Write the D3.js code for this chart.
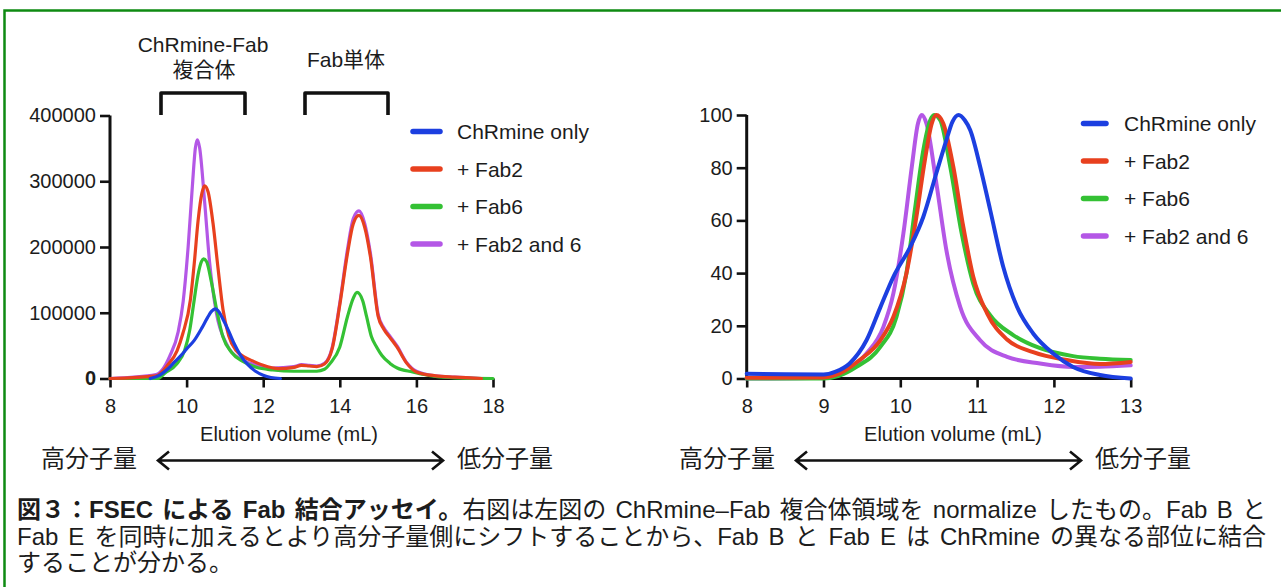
<!DOCTYPE html>
<html><head><meta charset="utf-8">
<script src="https://cdn.jsdelivr.net/npm/d3@7"></script>
<style>
html,body{margin:0;padding:0;background:#fff;}
svg{display:block;}
text{font-family:"Liberation Sans",Arial,"Noto Sans CJK JP",sans-serif;fill:#1c1c1c;}
</style></head><body>
<script>
// ---------------- DATA ----------------
const seriesNames = ["ChRmine only", "+ Fab2", "+ Fab6", "+ Fab2 and 6"];
const seriesColors = ["#1c3fe0", "#e8401e", "#34c134", "#b457e6"];

const leftXTicks = [8, 10, 12, 14, 16, 18];
const leftYTicks = [0, 100000, 200000, 300000, 400000];
const rightXTicks = [8, 9, 10, 11, 12, 13];
const rightYTicks = [0, 20, 40, 60, 80, 100];

// Left chart: raw FSEC signal vs elution volume (mL)
const leftBlueX = [9.05, 9.3, 9.5, 9.7, 9.9, 10.0, 10.2, 10.4, 10.55, 10.65, 10.75, 10.85, 10.95, 11.1, 11.25, 11.4, 11.6, 11.8, 12.0, 12.2, 12.45];
const leftBlueY = [0, 5000, 14000, 26000, 38000, 45000, 58000, 77000, 93000, 102000, 106000, 101000, 90000, 72000, 52000, 36000, 21000, 11000, 5000, 1500, 0];

const leftRedX = [8, 9.2, 9.5, 9.75, 9.9, 10.1, 10.2, 10.3, 10.4, 10.47, 10.56, 10.69, 10.82, 10.95, 11.1, 11.3, 11.5, 11.75, 12.0, 12.4, 12.8, 13.0, 13.2, 13.4, 13.6, 13.8, 14.0, 14.2, 14.35, 14.5, 14.65, 14.8, 15.0, 15.15, 15.3, 15.49, 15.75, 16.0, 16.5, 17.0, 17.7];
const leftRedY = [0, 4000, 20000, 42000, 68000, 120000, 175000, 240000, 282000, 293000, 284000, 236000, 168000, 105000, 65000, 42000, 33000, 26000, 20000, 15000, 17000, 20000, 19000, 18000, 22000, 45000, 112000, 190000, 235000, 248000, 230000, 185000, 95000, 75000, 63000, 48000, 23000, 10000, 4000, 2000, 0];

const leftGreenX = [8, 9.25, 9.43, 9.74, 9.95, 10.08, 10.19, 10.3, 10.39, 10.44, 10.52, 10.65, 10.8, 10.95, 11.17, 11.47, 11.82, 12.25, 12.8, 13.0, 13.4, 13.6, 13.75, 14.0, 14.2, 14.35, 14.45, 14.6, 14.7, 14.83, 14.96, 15.1, 15.31, 15.5, 15.9, 16.2, 16.5, 17.0, 18.0];
const leftGreenY = [0, 0, 8000, 22000, 43000, 73000, 116000, 158000, 178000, 182000, 178000, 146000, 100000, 63000, 40000, 26000, 17000, 13000, 11000, 11000, 11000, 14000, 23000, 48000, 94000, 122000, 131000, 118000, 94000, 63000, 48000, 35000, 23000, 16000, 10000, 6000, 3000, 1000, 0];

const leftPurpleX = [8, 9.2, 9.56, 9.78, 9.91, 10.04, 10.15, 10.23, 10.28, 10.34, 10.47, 10.6, 10.78, 11.04, 11.39, 11.82, 12.25, 12.8, 13.0, 13.2, 13.4, 13.6, 13.8, 14.0, 14.2, 14.35, 14.5, 14.65, 14.8, 15.0, 15.15, 15.3, 15.49, 15.75, 16.0, 16.5, 17.0, 17.7];
const leftPurpleY = [0, 6000, 34000, 71000, 117000, 200000, 292000, 351000, 363000, 351000, 269000, 177000, 99000, 53000, 30000, 21000, 16000, 18000, 21000, 20000, 19000, 23000, 47000, 115000, 196000, 243000, 255000, 236000, 190000, 98000, 77000, 65000, 50000, 24000, 11000, 4000, 2000, 0];

// Right chart: normalized (%) vs elution volume (mL)
const rightBlueX = [8, 8.5, 9.0, 9.15, 9.34, 9.56, 9.74, 9.91, 10.13, 10.3, 10.47, 10.6, 10.68, 10.76, 10.84, 10.91, 11.04, 11.17, 11.34, 11.52, 11.73, 11.99, 12.25, 12.6, 13.0];
const rightBlueY = [1.8, 1.6, 1.5, 2.5, 5.7, 14.5, 27, 38.6, 50, 61.4, 78, 90.5, 97.5, 100, 98, 94.3, 80.4, 64, 42.4, 27.2, 17.1, 9.5, 4.4, 1.3, 0];

const rightRedX = [8, 9.0, 9.21, 9.47, 9.74, 9.91, 10.08, 10.21, 10.32, 10.41, 10.47, 10.56, 10.69, 10.82, 10.95, 11.13, 11.39, 11.73, 12.17, 12.6, 13.0];
const rightRedY = [0.3, 0.4, 1.9, 7, 14.5, 23.4, 39.9, 61.4, 82.9, 96.8, 100, 96.8, 80.4, 57.6, 38.6, 24.7, 14.8, 10, 7, 5.5, 6.3];

const rightGreenX = [8, 9.0, 9.2, 9.43, 9.74, 9.95, 10.08, 10.19, 10.3, 10.39, 10.44, 10.52, 10.65, 10.8, 10.95, 11.17, 11.47, 11.82, 12.25, 12.6, 13.0];
const rightGreenY = [0, 0, 1, 4.4, 12, 23.4, 40, 64, 86.7, 98, 100, 98, 80.4, 55, 36, 24, 16.5, 11.5, 8.5, 7.5, 7];

const rightPurpleX = [8, 9.0, 9.2, 9.56, 9.78, 9.91, 10.04, 10.15, 10.23, 10.28, 10.34, 10.47, 10.6, 10.78, 11.04, 11.39, 11.82, 12.25, 12.6, 13.0];
const rightPurpleY = [0, 0.3, 2, 9.5, 19.6, 32.3, 55, 80.4, 96.8, 100, 96.8, 74, 48.7, 27.2, 14.5, 8.2, 5.7, 4.4, 4.5, 5];

const bracketLabels = [["ChRmine-Fab", "複合体"], ["Fab単体"]];
const arrowLabels = ["高分子量", "低分子量"];
const axisTitle = "Elution volume (mL)";
const captionLines = [
  [{t: "図３：FSEC による Fab 結合アッセイ。", b: true}, {t: "右図は左図の ChRmine–Fab 複合体領域を normalize したもの。Fab B と", b: false}],
  [{t: "Fab E を同時に加えるとより高分子量側にシフトすることから、Fab B と Fab E は ChRmine の異なる部位に結合", b: false}],
  [{t: "することが分かる。", b: false}]
];

// ---------------- DRAW ----------------
const W = 1281, H = 587;
const svg = d3.select("body").append("svg").attr("width", W).attr("height", H);
svg.append("rect").attr("width", W).attr("height", H).attr("fill", "#fff");

// green frame (top and left)
svg.append("path").attr("d", "M4.5,587 V10.5 H1281").attr("fill", "none")
  .attr("stroke", "#0e8a12").attr("stroke-width", 2.5);

function drawChart(cfg) {
  const g = svg.append("g");
  const x = d3.scaleLinear().domain(cfg.xDomain).range(cfg.xRange);
  const y = d3.scaleLinear().domain(cfg.yDomain).range(cfg.yRange);

  const ax = g.append("g").attr("transform", `translate(0,${cfg.yRange[0]})`)
    .call(d3.axisBottom(x).tickValues(cfg.xTicks).tickSize(9).tickPadding(11).tickFormat(d3.format("d")));
  const ay = g.append("g").attr("transform", `translate(${cfg.xRange[0]},0)`)
    .call(d3.axisLeft(y).tickValues(cfg.yTicks).tickSize(10).tickPadding(4).tickFormat(d3.format("d")));
  [ax, ay].forEach(a => {
    a.select(".domain").attr("stroke", "#111").attr("stroke-width", 3).attr("d",
      a === ax ? `M${cfg.xRange[0]},0H${cfg.xRange[1]}` : `M0,${cfg.yRange[0]}V${cfg.yRange[1]}`);
    a.selectAll(".tick line").attr("stroke", "#111").attr("stroke-width", 2.6);
    a.selectAll(".tick text").attr("fill", "#1c1c1c").style("font-size", "20px")
      .style("font-family", '"Liberation Sans", Arial, sans-serif');
  });
  if (cfg.boldZero) ay.selectAll(".tick text").filter(d => d === 0).style("font-weight", "bold");

  const line = d3.line().x(d => x(d[0])).y(d => y(d[1])).curve(d3.curveMonotoneX);
  // draw order: purple, green, red, blue
  [3, 2, 1, 0].forEach(i => {
    const xs = cfg.data[i][0], ys = cfg.data[i][1];
    g.append("path").datum(xs.map((v, k) => [v, ys[k]]))
      .attr("d", line).attr("fill", "none").attr("stroke", seriesColors[i])
      .attr("stroke-width", cfg.lw).attr("stroke-linejoin", "round").attr("stroke-linecap", "round");
  });

  // legend
  seriesNames.forEach((n, i) => {
    const yy = cfg.legY + i * cfg.legDy;
    g.append("line").attr("x1", cfg.legX1).attr("x2", cfg.legX2).attr("y1", yy).attr("y2", yy)
      .attr("stroke", seriesColors[i]).attr("stroke-width", 5.5).attr("stroke-linecap", "round");
    g.append("text").attr("x", cfg.legTx).attr("y", yy).attr("dy", "0.36em")
      .style("font-size", "21px").text(n);
  });

  // axis title
  g.append("text").attr("x", cfg.titleX).attr("y", 441).attr("text-anchor", "middle")
    .style("font-size", "20px").text(axisTitle);

  // arrow row
  g.append("text").attr("x", cfg.arrow[0]).attr("y", 467).style("font-size", "24px")
    .style("font-family", '"Noto Sans CJK JP", sans-serif').text(arrowLabels[0]);
  g.append("text").attr("x", cfg.arrow[3]).attr("y", 467).style("font-size", "24px")
    .style("font-family", '"Noto Sans CJK JP", sans-serif').text(arrowLabels[1]);
  const ay0 = 460.5, a1 = cfg.arrow[1], a2 = cfg.arrow[2];
  g.append("path").attr("d", `M${a1},${ay0}H${a2}M${a1 + 11},${ay0 - 9}L${a1},${ay0}L${a1 + 11},${ay0 + 9}M${a2 - 11},${ay0 - 9}L${a2},${ay0}L${a2 - 11},${ay0 + 9}`)
    .attr("fill", "none").attr("stroke", "#111").attr("stroke-width", 2.6)
    .attr("stroke-linejoin", "miter");
  return g;
}

drawChart({
  xDomain: [8, 18], xRange: [110, 493],
  yDomain: [0, 400000], yRange: [378.5, 115.5],
  xTicks: leftXTicks, yTicks: leftYTicks, boldZero: true, lw: 3.2,
  data: [[leftBlueX, leftBlueY], [leftRedX, leftRedY], [leftGreenX, leftGreenY], [leftPurpleX, leftPurpleY]],
  legX1: 413, legX2: 440, legTx: 457, legY: 131.5, legDy: 37.5,
  titleX: 289, arrow: [41, 158, 443, 457]
});

drawChart({
  xDomain: [8, 13], xRange: [746.7, 1130.7],
  yDomain: [0, 100], yRange: [378.5, 115],
  xTicks: rightXTicks, yTicks: rightYTicks, boldZero: false, lw: 4,
  data: [[rightBlueX, rightBlueY], [rightRedX, rightRedY], [rightGreenX, rightGreenY], [rightPurpleX, rightPurpleY]],
  legX1: 1083.5, legX2: 1106, legTx: 1124, legY: 123.5, legDy: 37.5,
  titleX: 953, arrow: [679, 796, 1081, 1095]
});

// brackets
const bk = svg.append("g").attr("fill", "none").attr("stroke", "#111").attr("stroke-width", 3.6)
  .attr("stroke-linejoin", "round");
bk.append("path").attr("d", "M161,115V93H245V115");
bk.append("path").attr("d", "M305,115V93H388V115");
svg.append("text").attr("x", 203).attr("y", 52).attr("text-anchor", "middle").style("font-size", "21px").text(bracketLabels[0][0]);
svg.append("text").attr("x", 204).attr("y", 77).attr("text-anchor", "middle").style("font-size", "21px").text(bracketLabels[0][1]);
svg.append("text").attr("x", 346).attr("y", 67).attr("text-anchor", "middle").style("font-size", "21px").text(bracketLabels[1][0]);

// caption
const capX = 17, capW = 1249, capBase = [518, 545, 571];
captionLines.forEach((parts, li) => {
  const t = svg.append("text").attr("x", capX).attr("y", capBase[li]).style("font-size", "24px").attr("fill", "#1a1a1a");
  parts.forEach(p => t.append("tspan").style("font-weight", p.b ? "bold" : "normal").text(p.t));
  if (li < 2) {
    const len = t.node().getComputedTextLength();
    const nSp = parts.map(p => p.t).join("").split(" ").length - 1;
    if (nSp > 0) t.style("word-spacing", ((capW - len) / nSp) + "px");
  }
});
</script>
</body></html>
